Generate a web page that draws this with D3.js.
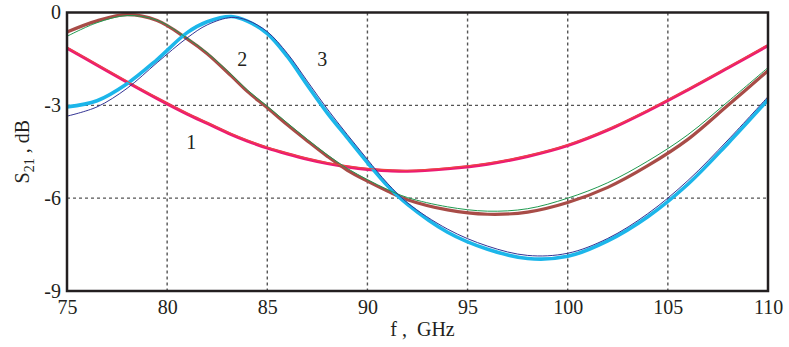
<!DOCTYPE html>
<html>
<head>
<meta charset="utf-8">
<script src="https://cdn.jsdelivr.net/npm/d3@7"></script>
<style>
  body { margin: 0; background: #fff; }
  text { font-family: "Liberation Serif", "Times New Roman", serif; fill: #231f20; }
</style>
</head>
<body>
<div id="chart"></div>
<script>
// frequency points, GHz
const freq = [75, 76.5, 78, 79.5, 81, 82, 83.2, 84, 85, 86, 87, 88, 89, 90, 91, 92, 94, 96, 98, 100, 102, 104, 106, 108, 110];

// curve 1
const s1Pink = [-1.15, -1.7, -2.25, -2.78, -3.28, -3.58, -3.94, -4.15, -4.38, -4.57, -4.74, -4.88, -4.99, -5.07, -5.11, -5.13, -5.05, -4.9, -4.65, -4.3, -3.8, -3.18, -2.5, -1.79, -1.07];
const s1Red  = [-1.12, -1.67, -2.22, -2.75, -3.25, -3.55, -3.91, -4.12, -4.35, -4.54, -4.71, -4.85, -4.96, -5.04, -5.08, -5.1, -5.02, -4.87, -4.62, -4.27, -3.77, -3.15, -2.47, -1.76, -1.04];
// curve 2
const s2Brown = [-0.63, -0.27, -0.07, -0.26, -0.85, -1.33, -2.05, -2.55, -3.08, -3.63, -4.15, -4.65, -5.1, -5.45, -5.77, -6.05, -6.38, -6.52, -6.45, -6.14, -5.65, -4.95, -4.1, -3.0, -1.88];
const s2Green = [-0.77, -0.33, -0.1, -0.25, -0.83, -1.3, -2.0, -2.5, -3.03, -3.57, -4.1, -4.6, -5.04, -5.4, -5.72, -5.98, -6.28, -6.42, -6.34, -6.0, -5.5, -4.8, -3.95, -2.88, -1.78];
// curve 3
const s3Cyan = [-3.05, -2.85, -2.3, -1.52, -0.65, -0.3, -0.13, -0.28, -0.68, -1.42, -2.35, -3.25, -4.05, -4.85, -5.6, -6.2, -7.1, -7.65, -7.95, -7.88, -7.38, -6.6, -5.55, -4.23, -2.82];
const s3Navy = [-3.35, -3.05, -2.45, -1.62, -0.82, -0.4, -0.16, -0.25, -0.62, -1.32, -2.22, -3.12, -3.95, -4.75, -5.52, -6.15, -7.0, -7.55, -7.85, -7.78, -7.3, -6.5, -5.43, -4.12, -2.72];

const xTicks = [75, 80, 85, 90, 95, 100, 105, 110];
const yTicks = [0, -3, -6, -9];
const curveLabels = [
  {text: "1", f: 81.2, v: -4.2},
  {text: "2", f: 83.75, v: -1.5},
  {text: "3", f: 87.75, v: -1.5}
];

const W = 789, H = 347;
const margin = {top: 12.5, right: 21, bottom: 56, left: 67};
const width = W - margin.left - margin.right,
      height = H - margin.top - margin.bottom;

const svg = d3.select("#chart").append("svg")
    .attr("width", W).attr("height", H);
const g = svg.append("g")
    .attr("transform", `translate(${margin.left},${margin.top})`);

const x = d3.scaleLinear().domain([75, 110]).range([0, width]);
const y = d3.scaleLinear().domain([-9, 0]).range([height, 0]);

// grid
g.append("g").selectAll("line")
  .data(xTicks.slice(1, -1))
  .join("line")
    .attr("x1", d => x(d)).attr("x2", d => x(d))
    .attr("y1", 0).attr("y2", height)
    .attr("stroke", "#555").attr("stroke-width", 1.4)
    .attr("stroke-dasharray", "3,3");
g.append("g").selectAll("line")
  .data(yTicks.slice(1, -1))
  .join("line")
    .attr("x1", 0).attr("x2", width)
    .attr("y1", d => y(d)).attr("y2", d => y(d))
    .attr("stroke", "#555").attr("stroke-width", 1.4)
    .attr("stroke-dasharray", "3,3");

// axes (labels only)
const xAxis = g.append("g")
  .attr("transform", `translate(0,${height})`)
  .call(d3.axisBottom(x).tickValues(xTicks).tickSize(0).tickPadding(9).tickFormat(d3.format("d")));
const yAxis = g.append("g")
  .call(d3.axisLeft(y).tickValues(yTicks).tickSize(0).tickPadding(6).tickFormat(d => d === 0 ? "0" : String(d).replace("\u2212", "-")));
[xAxis, yAxis].forEach(a => {
  a.select(".domain").remove();
  a.selectAll("text").attr("font-size", 20).attr("font-family", "Liberation Serif").attr("fill", "#231f20");
});
xAxis.selectAll("text").attr("dy", "0.72em");

// curves
const line = d3.line()
  .x((d, i) => x(freq[i]))
  .y(d => y(d))
  .curve(d3.curveCatmullRom.alpha(0.5));

const series = [
  {data: s1Pink, color: "#ec1b72", w: 3.2},
  {data: s2Brown, color: "#a84c47", w: 3.2},
  {data: s3Cyan, color: "#1cb6ea", w: 3.6},
  {data: s1Red, color: "#ef4b3c", w: 1},
  {data: s2Green, color: "#1f9a50", w: 1},
  {data: s3Navy, color: "#343494", w: 1}
];
g.append("g").selectAll("path")
  .data(series)
  .join("path")
    .attr("fill", "none")
    .attr("stroke", d => d.color)
    .attr("stroke-width", d => d.w)
    .attr("d", d => line(d.data));

// frame
g.append("rect")
  .attr("width", width).attr("height", height)
  .attr("fill", "none").attr("stroke", "#231f20").attr("stroke-width", 2.5);

// curve numbers
g.append("g").selectAll("text")
  .data(curveLabels)
  .join("text")
    .attr("x", d => x(d.f)).attr("y", d => y(d.v))
    .attr("text-anchor", "middle").attr("dy", "0.35em")
    .attr("font-size", 20)
    .text(d => d.text);

// axis titles
svg.append("text")
  .attr("x", margin.left + width / 2 + 5).attr("y", 336)
  .attr("text-anchor", "middle").attr("font-size", 20)
  .attr("xml:space", "preserve")
  .text("f ,  GHz");

const yt = svg.append("text")
  .attr("transform", `translate(29,${margin.top + height / 2}) rotate(-90)`)
  .attr("text-anchor", "middle").attr("font-size", 20);
yt.append("tspan").text("S");
yt.append("tspan").attr("font-size", 14).attr("dy", 5).text("21");
yt.append("tspan").attr("dy", -5).text(" , dB");
</script>
</body>
</html>
